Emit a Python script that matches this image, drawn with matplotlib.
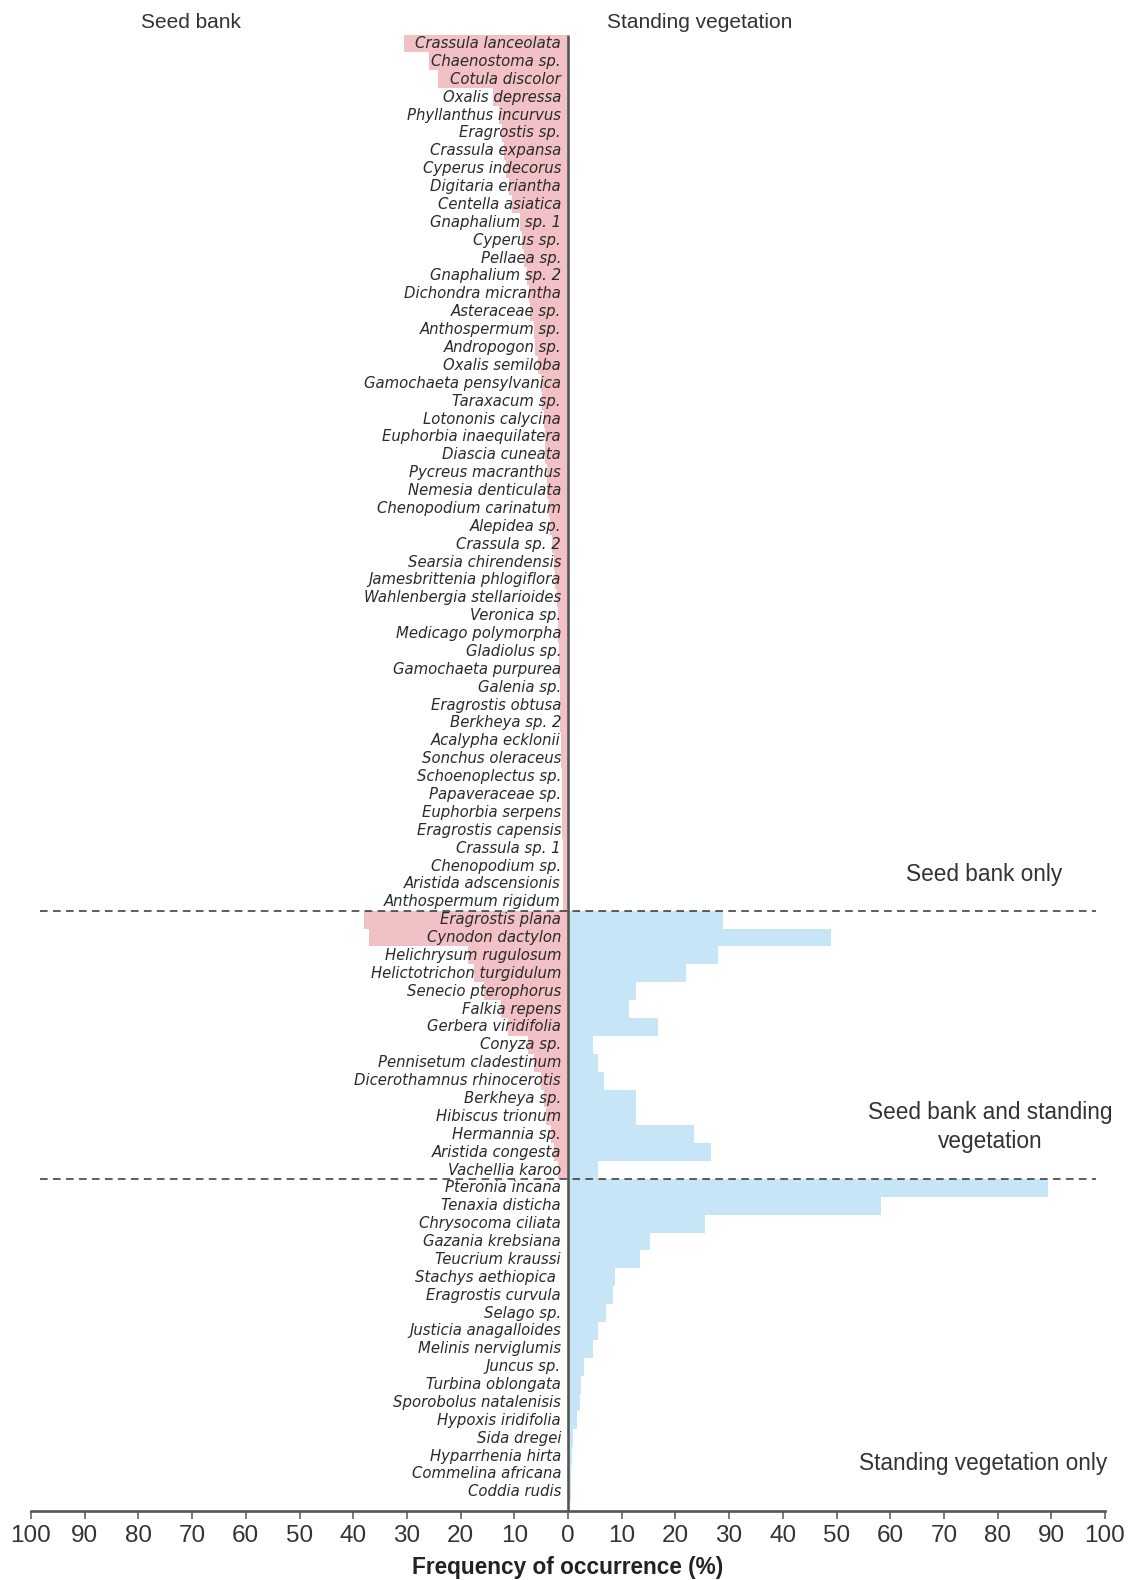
import matplotlib
matplotlib.use("Agg")
import matplotlib.pyplot as plt
import numpy as np

# species found only in the seed bank (frequency of occurrence, %)
seed_only_names = [
    "Crassula lanceolata", "Chaenostoma sp.", "Cotula discolor", "Oxalis depressa",
    "Phyllanthus incurvus", "Eragrostis sp.", "Crassula expansa", "Cyperus indecorus",
    "Digitaria eriantha", "Centella asiatica", "Gnaphalium sp. 1", "Cyperus sp.",
    "Pellaea sp.", "Gnaphalium sp. 2", "Dichondra micrantha", "Asteraceae sp.",
    "Anthospermum sp.", "Andropogon sp.", "Oxalis semiloba", "Gamochaeta pensylvanica",
    "Taraxacum sp.", "Lotononis calycina", "Euphorbia inaequilatera", "Diascia cuneata",
    "Pycreus macranthus", "Nemesia denticulata", "Chenopodium carinatum", "Alepidea sp.",
    "Crassula sp. 2", "Searsia chirendensis", "Jamesbrittenia phlogiflora",
    "Wahlenbergia stellarioides", "Veronica sp.", "Medicago polymorpha", "Gladiolus sp.",
    "Gamochaeta purpurea", "Galenia sp.", "Eragrostis obtusa", "Berkheya sp. 2",
    "Acalypha ecklonii", "Sonchus oleraceus", "Schoenoplectus sp.", "Papaveraceae sp.",
    "Euphorbia serpens", "Eragrostis capensis", "Crassula sp. 1", "Chenopodium sp.",
    "Aristida adscensionis", "Anthospermum rigidum",
]
seed_only_vals = [
    30.5, 25.8, 24.2, 14.0, 12.8, 12.3, 11.9, 11.6, 11.0, 10.4, 8.9, 8.6, 8.2, 7.6,
    7.3, 7.0, 6.3, 6.1, 5.5, 5.1, 4.8, 4.5, 4.3, 4.2, 4.0, 3.9, 3.6, 3.3, 3.0, 2.7,
    2.4, 2.1, 1.9, 1.8, 1.7, 1.6, 1.5, 1.4, 1.4, 1.3, 1.3, 1.2, 1.2, 1.1, 1.1, 1.0,
    1.0, 0.9, 0.9,
]

# species in both seed bank and standing vegetation
both_names = [
    "Eragrostis plana", "Cynodon dactylon", "Helichrysum rugulosum",
    "Helictotrichon turgidulum", "Senecio pterophorus", "Falkia repens",
    "Gerbera viridifolia", "Conyza sp.", "Pennisetum cladestinum",
    "Dicerothamnus rhinocerotis", "Berkheya sp.", "Hibiscus trionum", "Hermannia sp.",
    "Aristida congesta", "Vachellia karoo",
]
both_seed = [37.9, 37.0, 18.6, 17.5, 15.6, 12.5, 11.2, 7.5, 6.3, 5.0, 4.4, 4.1, 3.2, 2.6, 1.9]
both_stand = [28.8, 48.9, 28.0, 22.0, 12.6, 11.4, 16.7, 4.6, 5.5, 6.7, 12.6, 12.6, 23.4, 26.6, 5.5]

# species found only in the standing vegetation
stand_only_names = [
    "Pteronia incana", "Tenaxia disticha", "Chrysocoma ciliata", "Gazania krebsiana",
    "Teucrium kraussi", "Stachys aethiopica ", "Eragrostis curvula", "Selago sp.",
    "Justicia anagalloides", "Melinis nerviglumis", "Juncus sp.", "Turbina oblongata",
    "Sporobolus natalenisis", "Hypoxis iridifolia", "Sida dregei", "Hyparrhenia hirta",
    "Commelina africana", "Coddia rudis",
]
stand_only_vals = [89.3, 58.2, 25.6, 15.2, 13.4, 8.8, 8.4, 7.1, 5.5, 4.6, 2.9, 2.5,
                   2.2, 1.7, 0.9, 0.7, 0.6, 0.5]

xticks = np.arange(-100, 101, 10)

names = seed_only_names + both_names + stand_only_names
seed = np.array(seed_only_vals + both_seed + [0] * len(stand_only_names))
stand = np.array([0] * len(seed_only_names) + both_stand + stand_only_vals)
y = np.arange(len(names))

PINK = "#f1c1c5"
BLUE = "#c6e5f6"
TXT = "#333333"

fig = plt.figure(figsize=(11.33, 15.8), dpi=100)
ax = fig.add_axes([31 / 1133, 1 - 1511 / 1580, 1074 / 1133, 1511 / 1580])

ax.barh(y, -seed, height=1.0, color=PINK, linewidth=0, zorder=1)
ax.barh(y, stand, height=1.0, color=BLUE, linewidth=0, zorder=1)

ybot = 82.07
ax.vlines(0, -0.5, ybot, color="#555555", lw=1.9, zorder=3)

for yi, nm in zip(y, names):
    ax.text(-1.3, yi, nm, ha="right", va="center", fontsize=10.7,
            family="DejaVu Sans", style="italic", color="#2a2a2a", zorder=4)

# group separators
n1 = len(seed_only_names)
n2 = n1 + len(both_names)
for yy in (n1 - 0.5, n2 - 0.5):
    ax.plot([-98.3, 98.3], [yy, yy], color="#333333", lw=1.1,
            dashes=(5, 3.5), zorder=5)

ax.text(-70.2, -1.2, "Seed bank", ha="center", va="center", fontsize=15,
        family="Liberation Sans", color=TXT)
ax.text(24.6, -1.2, "Standing vegetation", ha="center", va="center", fontsize=15,
        family="Liberation Sans", color=TXT)

ax.text(77.5, 46.5, "Seed bank only", ha="center", va="center", fontsize=16.3,
        family="Liberation Sans", color=TXT)
ax.text(78.6, 60.6, "Seed bank and standing\nvegetation", ha="center", va="center",
        fontsize=16.3, family="Liberation Sans", color=TXT, linespacing=1.3)
ax.text(77.3, 79.4, "Standing vegetation only", ha="center", va="center",
        fontsize=16.3, family="Liberation Sans", color=TXT)

ax.set_xlim(-100, 100)
ax.set_ylim(ybot, -2.433)
ax.set_xticks(xticks)
ax.set_xticklabels([str(abs(t)) for t in xticks], family="Liberation Sans",
                   fontsize=17.5, color=TXT)
ax.set_yticks([])
ax.tick_params(axis="x", direction="out", length=5.8, width=1.1, pad=4,
               color="#555555")
for s in ("left", "right", "top"):
    ax.spines[s].set_visible(False)
ax.spines["bottom"].set_bounds(-100, 100)
ax.spines["bottom"].set_linewidth(1.9)
ax.spines["bottom"].set_color("#555555")

ax.set_xlabel("Frequency of occurrence (%)", fontsize=16.3, fontweight="bold",
              family="Liberation Sans", color="#222222", labelpad=7)

fig.savefig("out.png", dpi=100)
